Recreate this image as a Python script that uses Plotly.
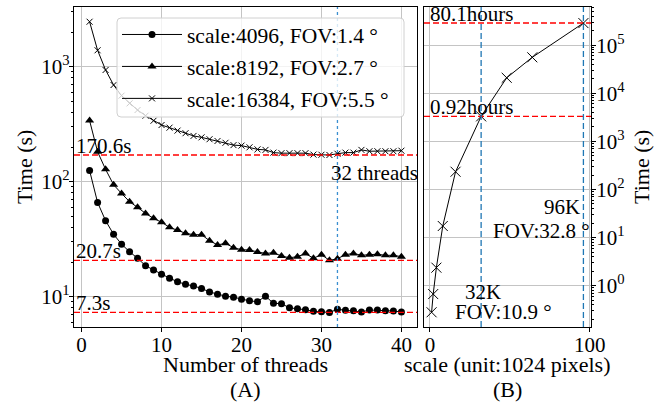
import math
import plotly.graph_objects as go

# ---- data ----
threads = list(range(1, 41))
t_4096 = [125, 66, 45.8, 34.9, 28.6, 24.6, 21.6, 18.6, 17.1, 15.7,
          14.5, 13.5, 12.8, 12.4, 11.8, 11.0, 10.5, 10.1, 9.9, 9.5,
          9.2, 9.06, 10.1, 8.76, 8.7, 8.0, 7.87, 7.7, 7.46, 7.41,
          7.3, 7.77, 7.62, 7.56, 7.36, 7.66, 7.66, 7.56, 7.5, 7.35]
t_8192 = [340, 182, 128, 94, 79, 67, 59.8, 53, 48, 44.4,
          40.1, 38, 35.6, 34.6, 34.6, 30.7, 28.2, 29.1, 26.7, 25.6,
          25.5, 24.5, 23.8, 24.1, 22.6, 21.8, 22.3, 23.7, 21.6, 23.2,
          20.7, 21.4, 23.2, 23.8, 22.9, 23.2, 23.4, 22.9, 22.9, 22.3]
t_16384 = [2460, 1389, 936, 693, 560, 480, 420, 375, 339, 311,
           295, 278, 264, 250, 243, 234, 226, 218, 208, 206,
           199, 191, 189, 179, 177, 177, 177, 177, 172, 171.5,
           170.6, 175, 179, 179, 189, 184, 184, 184, 184, 186]
series_names = ["scale:4096, FOV:1.4 °", "scale:8192, FOV:2.7 °", "scale:16384, FOV:5.5 °"]

best_times = [170.6, 20.7, 7.3]
best_labels = ["170.6s", "20.7s", "7.3s"]
best_threads = 32

scale_k = [1, 2, 4, 8, 16, 32, 48, 64, 96]
scale_time = [0.28, 0.67, 2.37, 17.4, 234, 3312, 21000, 56000, 288360]
hour_marks = [80.1 * 3600, 0.92 * 3600]
hour_labels = ["80.1hours", "0.92hours"]
scale_marks = [32, 96]

left_ytick_vals = [10, 100, 1000]
left_ytick_text = ["10<sup>1</sup>", "10<sup>2</sup>", "10<sup>3</sup>"]
right_ytick_vals = [1, 10, 100, 1000, 10000, 100000]
right_ytick_text = ["10<sup>0</sup>", "10<sup>1</sup>", "10<sup>2</sup>",
                    "10<sup>3</sup>", "10<sup>4</sup>", "10<sup>5</sup>"]

FONT = "Liberation Serif"
FS = 21
W, H = 659, 402
GRID = "#c4c4c4"


def minor_vals(lo, hi):
    vals = []
    for e in range(lo, hi):
        for m in range(2, 10):
            vals.append(m * 10 ** e)
    return vals


def round_box(x0, y0, x1, y1, r=4):
    # pixel box -> rounded rect path in paper coords
    px = lambda v: v / W
    py = lambda v: 1 - v / H
    return (f"M{px(x0 + r)},{py(y0)} L{px(x1 - r)},{py(y0)} Q{px(x1)},{py(y0)} {px(x1)},{py(y0 + r)} "
            f"L{px(x1)},{py(y1 - r)} Q{px(x1)},{py(y1)} {px(x1 - r)},{py(y1)} "
            f"L{px(x0 + r)},{py(y1)} Q{px(x0)},{py(y1)} {px(x0)},{py(y1 - r)} "
            f"L{px(x0)},{py(y0 + r)} Q{px(x0)},{py(y0)} {px(x0 + r)},{py(y0)} Z")


fig = go.Figure()

fig.add_trace(go.Scatter(x=threads, y=t_4096, name=series_names[0], mode="lines+markers",
                         legendgroup="a",
                         line=dict(color="black", width=1),
                         marker=dict(symbol="circle", size=7, color="black"),
                         xaxis="x", yaxis="y"))
fig.add_trace(go.Scatter(x=threads, y=t_8192, name=series_names[1], mode="lines+markers",
                         legendgroup="b",
                         line=dict(color="black", width=1),
                         marker=dict(symbol="triangle-up", size=8, color="black"),
                         xaxis="x", yaxis="y"))
fig.add_trace(go.Scatter(x=threads, y=t_16384, name=series_names[2], mode="lines+markers",
                         legendgroup="c",
                         line=dict(color="black", width=1),
                         marker=dict(symbol="x-thin", size=6, color="black",
                                     line=dict(color="black", width=1)),
                         xaxis="x", yaxis="y"))
fig.add_trace(go.Scatter(x=scale_k, y=scale_time, mode="lines+markers", showlegend=False,
                         line=dict(color="black", width=1),
                         marker=dict(symbol="x-thin", size=10, color="black",
                                     line=dict(color="black", width=1)),
                         xaxis="x2", yaxis="y2"))

shapes = []
for v in best_times:
    shapes.append(dict(type="line", xref="x domain", yref="y", x0=0, x1=1, y0=v, y1=v,
                       line=dict(color="red", width=1.4, dash="6px,3px")))
shapes.append(dict(type="line", xref="x", yref="y domain", x0=best_threads, x1=best_threads,
                   y0=0, y1=1, line=dict(color="#3a8fd0", width=1.3, dash="dot")))
for v in hour_marks:
    shapes.append(dict(type="line", xref="x2 domain", yref="y2", x0=0, x1=1, y0=v, y1=v,
                       line=dict(color="red", width=1.4, dash="6px,3px")))
for v in scale_marks:
    shapes.append(dict(type="line", xref="x2", yref="y2 domain", x0=v, x1=v, y0=0, y1=1,
                       line=dict(color="#1f77b4", width=1.3, dash="6px,3px")))
# legend frame (matplotlib style, semi-transparent, rounded)
shapes.append(dict(type="path", xref="paper", yref="paper", layer="above",
                   path=round_box(117, 18, 404, 117),
                   fillcolor="rgba(255,255,255,0.8)", line=dict(color="#d0d0d0", width=1)))

annos = []
for v, t in zip(best_times, best_labels):
    annos.append(dict(xref="x", yref="y", x=-0.95, y=math.log10(v), text=t,
                      xanchor="left", yanchor="bottom", yshift=-5, showarrow=False))
annos.append(dict(xref="x", yref="y", x=31, y=math.log10(120), text="32 threads",
                  xanchor="left", yanchor="middle", showarrow=False))
for v, t in zip(hour_marks, hour_labels):
    annos.append(dict(xref="x2", yref="y2", x=-3.75, y=math.log10(v), text=t,
                      xanchor="left", yanchor="bottom", yshift=-5, xshift=4, showarrow=False))
annos.append(dict(xref="x2", yref="y2", x=33.2, y=-0.125, text="32K",
                  xanchor="center", yanchor="middle", showarrow=False))
annos.append(dict(xref="x2", yref="y2", x=45.7, y=-0.54, text="FOV:10.9 °",
                  xanchor="center", yanchor="middle", showarrow=False))
annos.append(dict(xref="x2", yref="y2", x=95.1, y=1.636, text="96K",
                  xanchor="right", yanchor="middle", showarrow=False))
annos.append(dict(xref="x2", yref="y2", x=100, y=1.143, text="FOV:32.8 °",
                  xanchor="right", yanchor="middle", xshift=2, showarrow=False))

# axis titles as annotations so they sit where the reference has them
title_font = dict(family=FONT, size=22)
x_titles = [("Number of threads", "(A)", 245.5), ("scale (unit:1024 pixels)", "(B)", 507.5)]
for main, letter, cx in x_titles:
    annos.append(dict(xref="paper", yref="paper", x=cx / W, y=1 - 364 / H, text=main,
                      xanchor="center", yanchor="middle", showarrow=False, font=title_font))
    annos.append(dict(xref="paper", yref="paper", x=cx / W, y=1 - 389 / H, text=letter,
                      xanchor="center", yanchor="middle", showarrow=False, font=title_font))
for cx in [24, 641]:
    annos.append(dict(xref="paper", yref="paper", x=cx / W, y=1 - 167 / H, text="Time (s)",
                      textangle=-90, xanchor="center", yanchor="middle", showarrow=False,
                      font=title_font))

axis_common = dict(showline=True, linecolor="black", linewidth=1.3, mirror=True,
                   showgrid=True, gridcolor=GRID, gridwidth=1.2, zeroline=False,
                   ticks="outside", ticklen=4, tickcolor="black",
                   tickfont=dict(family=FONT, size=FS, color="black"), automargin=False)

fig.update_layout(
    width=W, height=H, autosize=False,
    margin=dict(l=0, r=0, t=0, b=0),
    plot_bgcolor="white", paper_bgcolor="white",
    font=dict(family=FONT, size=FS, color="black"),
    xaxis=dict(domain=[74 / W, 417 / W], range=[-0.95, 41.95],
               tickvals=[0, 10, 20, 30, 40], anchor="y", ticklabelstandoff=-5,
               **axis_common),
    yaxis=dict(domain=[1 - 327 / H, 1 - 7 / H], type="log", range=[0.7365, 3.519],
               tickvals=left_ytick_vals, ticktext=left_ytick_text, anchor="x",
               ticklabelstandoff=-5,
               minor=dict(tickvals=minor_vals(0, 4), ticks="outside", ticklen=2,
                          tickcolor="black", showgrid=False),
               **axis_common),
    xaxis2=dict(domain=[424 / W, 591 / W], range=[-3.75, 100.75],
                tickvals=[0, 100], anchor="y2", ticklabelstandoff=-5,
                **axis_common),
    yaxis2=dict(domain=[1 - 327 / H, 1 - 7 / H], type="log", range=[-0.859, 5.794],
                tickvals=right_ytick_vals, ticktext=right_ytick_text, anchor="x2", side="right",
                ticklabelstandoff=-4,
                minor=dict(tickvals=minor_vals(-1, 6), ticks="outside", ticklen=2,
                           tickcolor="black", showgrid=False),
                **axis_common),
    legend=dict(x=117 / W, y=1 - 14 / H, xanchor="left", yanchor="top",
                bgcolor="rgba(0,0,0,0)", borderwidth=0,
                font=dict(family=FONT, size=21.5), itemwidth=60, tracegroupgap=1),
    shapes=shapes,
    annotations=annos,
)

fig.write_html("out.html", config={"displayModeBar": False},
               post_script="document.body.style.margin='0px';")
